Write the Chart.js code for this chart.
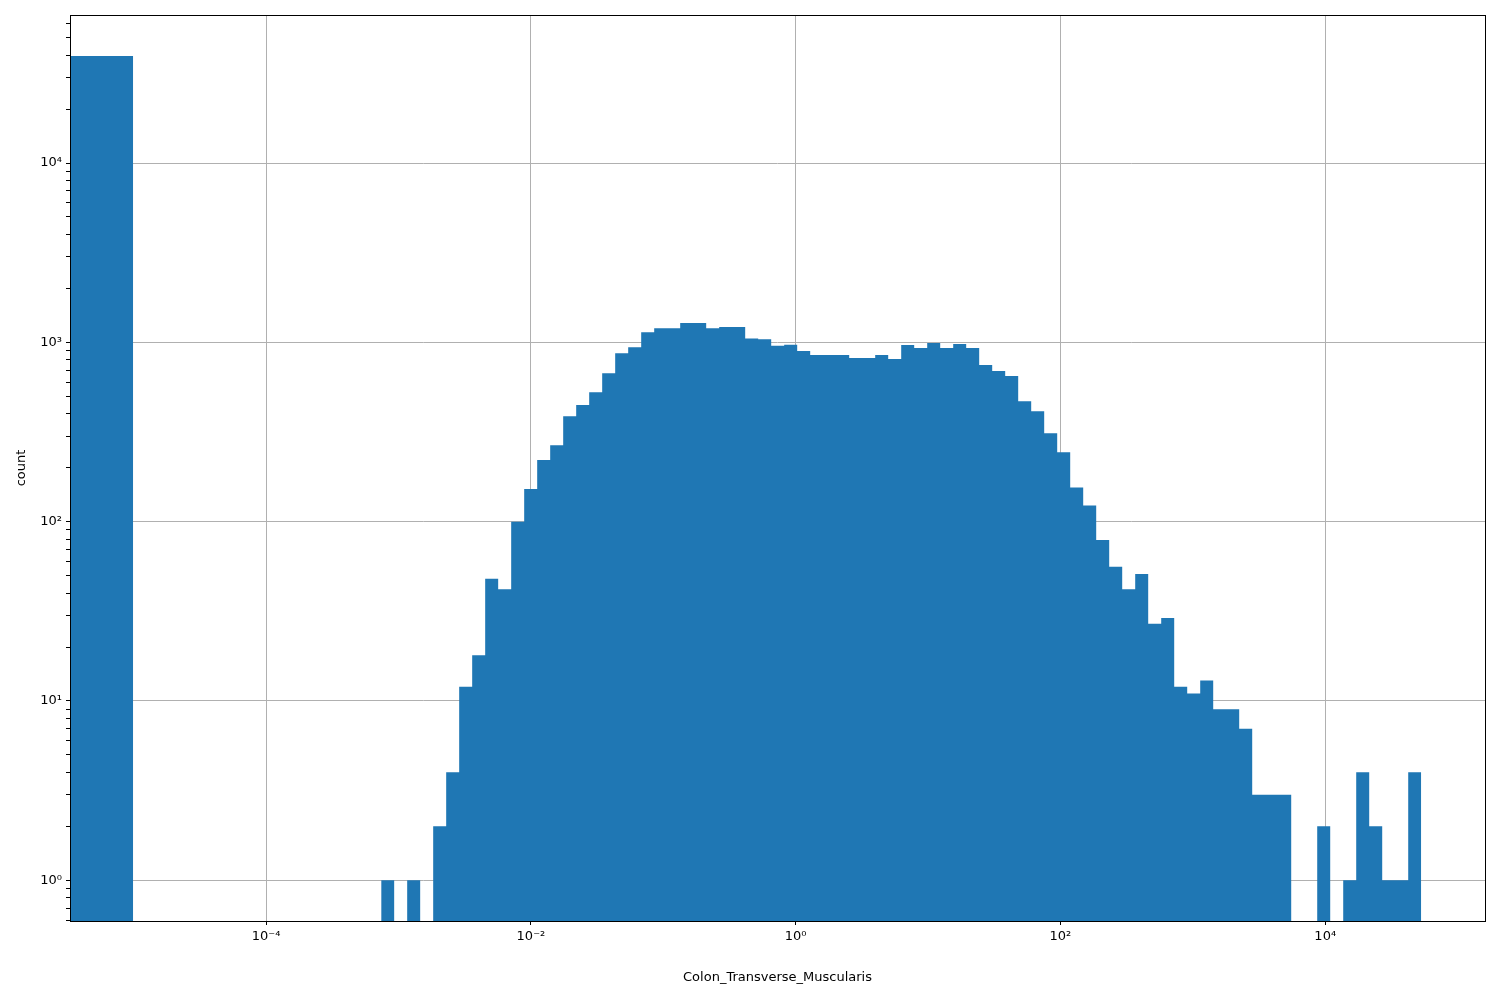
<!DOCTYPE html>
<html>
<head>
<meta charset="utf-8">
<script src="https://cdn.jsdelivr.net/npm/chart.js@4.4.0/dist/chart.umd.min.js"></script>
<style>
  html, body { margin: 0; padding: 0; background: #fff; }
  #wrap { width: 1500px; height: 1000px; }
</style>
</head>
<body>
<div id="wrap"><canvas id="chart" width="1500" height="1000"></canvas></div>
<script>
'use strict';

// histogram bins (log10 spaced), counts
const binStartLog = -3.131;
const binWidthLog = 0.0982;
const counts = [1, 0, 1, 0, 2, 4, 12, 18, 48, 42,
  100, 152, 221, 267, 387, 447, 527, 672, 869, 940,
  1137, 1197, 1197, 1280, 1280, 1197, 1216, 1216, 1052, 1042,
  958, 970, 895, 849, 849, 849, 817, 817, 849, 807,
  966, 930, 992, 930, 979, 930, 747, 692, 649, 470,
  413, 311, 244, 155, 123, 79, 56, 42, 51, 27,
  29, 12, 11, 13, 9, 9, 7, 3, 3, 3,
  0, 0, 2, 0, 1, 4, 2, 1, 1, 4];

// the zero-value bar at the far left
const zeroBarLeft = 1e-6;
const zeroBarRight = 9.9e-6;
const zeroBarCount = 39500;

const xTicks = [1e-4, 1e-2, 1e0, 1e2, 1e4];
const yMajor = [1, 10, 100, 1000, 10000];

const xMin = 3.3e-6, xMax = 1.61e5;
const yMin = 0.593, yMax = 66900;
const floorVal = 0.01;
const barColor = '#1f77b4';

const sup = {'-': '\u207b', '0': '\u2070', '1': '\u00b9', '2': '\u00b2', '3': '\u00b3', '4': '\u2074',
  '5': '\u2075', '6': '\u2076', '7': '\u2077', '8': '\u2078', '9': '\u2079'};
function powLabel(v) {
  const e = String(Math.round(Math.log10(v)));
  return '10' + e.split('').map(function(c) { return sup[c]; }).join('');
}

// build stepped outline of histogram
const histPts = [];
counts.forEach(function(c, i) {
  histPts.push({x: Math.pow(10, binStartLog + i * binWidthLog), y: c > 0 ? c : floorVal});
});
histPts.push({x: Math.pow(10, binStartLog + counts.length * binWidthLog), y: floorVal});

const zeroPts = [{x: zeroBarLeft, y: zeroBarCount}, {x: zeroBarRight, y: floorVal}];

// y ticks including minor ones
const yTicks = [];
for (let e = -1; e <= 4; e++) {
  for (let m = 1; m <= 9; m++) {
    const v = m * Math.pow(10, e);
    if (v >= yMin && v <= yMax) yTicks.push({value: v, major: m === 1});
  }
}

const frame = {
  id: 'frame',
  afterDraw: function(chart) {
    const a = chart.chartArea, c = chart.ctx;
    c.save();
    c.strokeStyle = '#000';
    c.lineWidth = 1;
    c.strokeRect(Math.round(a.left) + 0.5, Math.round(a.top) + 0.5,
      Math.round(a.right - a.left), Math.round(a.bottom - a.top));
    c.restore();
  }
};

const font = {family: 'DejaVu Sans', size: 13};

new Chart(document.getElementById('chart').getContext('2d'), {
  type: 'line',
  data: {
    datasets: [{
      data: zeroPts, stepped: 'before', fill: 'start',
      backgroundColor: barColor, borderWidth: 0, pointRadius: 0
    }, {
      data: histPts, stepped: 'before', fill: 'start',
      backgroundColor: barColor, borderWidth: 0, pointRadius: 0
    }]
  },
  plugins: [frame],
  options: {
    responsive: false,
    animation: false,
    devicePixelRatio: 1,
    layout: {padding: {left: 0, right: 15, top: 15, bottom: 0}},
    plugins: {legend: {display: false}, tooltip: {enabled: false}},
    scales: {
      x: {
        type: 'logarithmic', min: xMin, max: xMax, z: 1,
        afterBuildTicks: function(s) { s.ticks = xTicks.map(function(v) { return {value: v}; }); },
        afterFit: function(s) { s.height = 79; },
        ticks: {color: '#000', font: font, padding: 4, maxRotation: 0, autoSkip: false,
          callback: function(v) { return powLabel(v); }},
        grid: {color: '#b0b0b0', lineWidth: 1, tickColor: '#000', tickLength: 4},
        border: {display: false},
        title: {display: true, text: 'Colon_Transverse_Muscularis', color: '#000', font: font,
          padding: {top: 15, bottom: 15}}
      },
      y: {
        type: 'logarithmic', min: yMin, max: yMax, z: 1,
        afterBuildTicks: function(s) { s.ticks = yTicks.map(function(t) { return {value: t.value, major: t.major}; }); },
        afterFit: function(s) { s.width = 70; },
        ticks: {color: '#000', font: font, padding: 4, autoSkip: false,
          callback: function(v, i, ticks) { return ticks[i].major ? powLabel(v) : ''; }},
        grid: {
          color: function(ctx) { return ctx.tick && ctx.tick.major ? '#b0b0b0' : 'rgba(0,0,0,0)'; },
          tickColor: '#000', lineWidth: 1, tickLength: 4
        },
        border: {display: false},
        title: {display: true, text: 'count', color: '#000', font: font,
          padding: {top: 14, bottom: 14}}
      }
    }
  }
});
</script>
</body>
</html>
